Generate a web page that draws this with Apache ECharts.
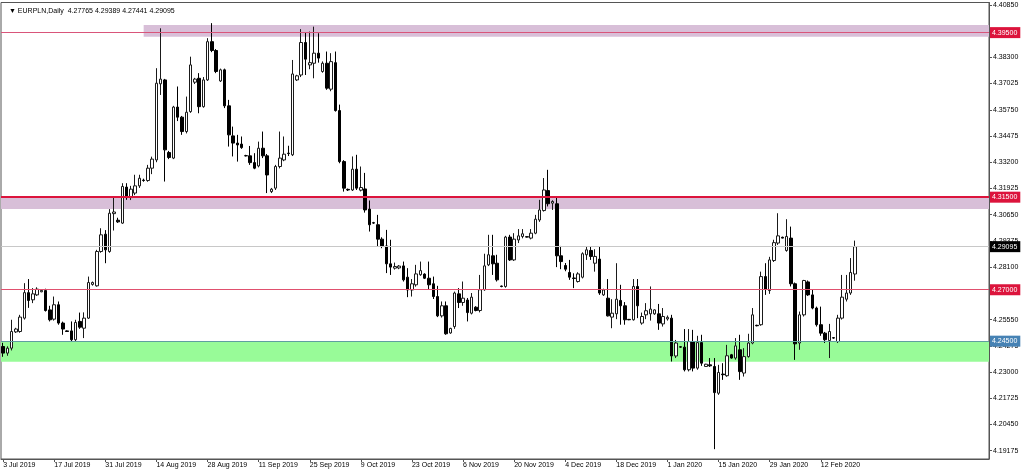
<!DOCTYPE html>
<html>
<head>
<meta charset="utf-8">
<script src="https://cdn.jsdelivr.net/npm/echarts@6/dist/echarts.min.js"></script>
<style>html,body{margin:0;padding:0;background:#fff}#c{width:1024px;height:474px}</style>
</head>
<body>
<div id="c"></div>
<script>
const symbolName = 'EURPLN,Daily';
const tickLabels = ['3 Jul 2019','17 Jul 2019','31 Jul 2019','14 Aug 2019','28 Aug 2019','11 Sep 2019','25 Sep 2019','9 Oct 2019','23 Oct 2019','6 Nov 2019','20 Nov 2019','4 Dec 2019','18 Dec 2019','1 Jan 2020','15 Jan 2020','29 Jan 2020','12 Feb 2020'];
const barsPerLabel = 12;
const totalSlots = 232;
const priceTicks = [4.19175,4.20450,4.21725,4.23000,4.24275,4.25550,4.26825,4.28100,4.29375,4.30650,4.31925,4.33200,4.34475,4.35750,4.37025,4.38300,4.39575,4.40850];
const priceMin = 4.18772, priceMax = 4.40964;

const open = [4.2424,4.2392,4.2416,4.2495,4.2497,4.2562,4.2686,4.2651,4.2675,4.2690,
4.2696,4.2602,4.2557,4.2627,4.2538,4.2500,4.2500,4.2457,4.2546,4.2513,
4.2562,4.2726,4.2719,4.2886,4.2970,4.2886,4.3070,4.3038,4.3024,4.3199,
4.3148,4.3170,4.3205,4.3233,4.3231,4.3291,4.3331,4.3701,4.3720,4.3367,
4.3340,4.3588,4.3539,4.3469,4.3566,4.3709,4.3728,4.3590,4.3720,4.3906,
4.3863,4.3715,4.3769,4.3594,4.3448,4.3413,4.3408,4.3352,4.3351,4.3318,
4.3302,4.3388,4.3351,4.3177,4.3194,4.3299,4.3331,4.3364,4.3356,4.3720,
4.3744,4.3902,4.3793,4.3801,4.3850,4.3761,4.3801,4.3675,4.3804,4.3571,
4.3323,4.3188,4.3185,4.3286,4.3184,4.3190,4.3092,4.3026,4.3016,4.2946,
4.2913,4.2826,4.2805,4.2806,4.2816,4.2761,4.2699,4.2724,4.2773,4.2776,
4.2756,4.2729,4.2667,4.2573,4.2622,4.2490,4.2521,4.2680,4.2638,4.2650,
4.2586,4.2615,4.2599,4.2700,4.2821,4.2865,4.2829,4.2718,4.2716,4.2956,
4.2845,4.2942,4.2959,4.2958,4.2951,4.2975,4.3039,4.3085,4.3182,4.3121,
4.3118,4.2865,4.2818,4.2784,4.2757,4.2740,4.2761,4.2870,4.2891,4.2829,
4.2849,4.2675,4.2659,4.2567,4.2583,4.2648,4.2622,4.2556,4.2554,4.2716,
4.2538,4.2578,4.2583,4.2583,4.2583,4.2534,4.2558,4.2562,4.2378,4.2423,
4.2421,4.2311,4.2448,4.2319,4.2443,4.2327,4.2335,4.2327,4.2197,4.2290,
4.2282,4.2384,4.2368,4.2408,4.2295,4.2375,4.2441,4.2527,4.2530,4.2764,
4.2696,4.2842,4.2927,4.2955,4.2891,4.2951,4.2729,4.2441,4.2578,4.2738,
4.2675,4.2611,4.2530,4.2489,4.2453,4.2467,4.2448,4.2562,4.2654,4.2684,
4.27765];
const high = [4.2442,4.2425,4.2554,4.2515,4.2578,4.2732,4.2752,4.2708,4.2712,4.2700,
4.2705,4.2622,4.2667,4.2643,4.2545,4.2503,4.2546,4.2554,4.2589,4.2590,
4.2764,4.2740,4.2894,4.2999,4.2990,4.3092,4.3150,4.3050,4.3218,4.3218,
4.3205,4.3259,4.3259,4.3240,4.3307,4.3347,4.3777,4.3971,4.3725,4.3375,
4.3594,4.3688,4.3545,4.3639,4.3833,4.3730,4.3753,4.3734,4.3923,4.3996,
4.3870,4.3775,4.3775,4.3623,4.3493,4.3453,4.3445,4.3356,4.3399,4.3364,
4.3420,4.3469,4.3360,4.3195,4.3307,4.3469,4.3445,4.3400,4.3817,4.3745,
4.3967,4.3950,4.3955,4.3979,4.3947,4.3810,4.3858,4.3850,4.3858,4.3600,
4.3330,4.3192,4.3348,4.3356,4.3299,4.3268,4.3134,4.3030,4.3064,4.2955,
4.2991,4.2943,4.2832,4.2820,4.2837,4.2805,4.2752,4.2821,4.2837,4.2780,
4.2837,4.2764,4.2719,4.2643,4.2643,4.2515,4.2691,4.2708,4.2740,4.2660,
4.2684,4.2620,4.2772,4.2875,4.2967,4.2967,4.2870,4.2720,4.2962,4.2967,
4.2975,4.2995,4.2995,4.2960,4.2995,4.3064,4.3137,4.3243,4.3283,4.3135,
4.3153,4.2913,4.2830,4.2845,4.2780,4.2785,4.2882,4.2910,4.2910,4.2897,
4.2910,4.2705,4.2752,4.2654,4.2829,4.2724,4.2640,4.2558,4.2752,4.2752,
4.2589,4.2635,4.2716,4.2605,4.2631,4.2611,4.2575,4.2578,4.2456,4.2425,
4.2509,4.2509,4.2505,4.2476,4.2481,4.2340,4.2368,4.2368,4.2335,4.2343,
4.2432,4.2388,4.2465,4.2481,4.2416,4.2486,4.2611,4.2530,4.2788,4.2829,
4.2860,4.2943,4.3072,4.2958,4.3043,4.3007,4.2735,4.2594,4.2748,4.2745,
4.2699,4.2618,4.2618,4.2495,4.2534,4.2470,4.2578,4.2772,4.2772,4.2854,
4.29389];
const low = [4.2374,4.2379,4.2405,4.2490,4.2491,4.2555,4.2612,4.2635,4.2670,4.2688,
4.2594,4.2546,4.2550,4.2530,4.2481,4.2495,4.2450,4.2450,4.2510,4.2465,
4.2558,4.2720,4.2715,4.2880,4.2829,4.2880,4.2988,4.3025,4.3020,4.3137,
4.3136,4.3160,4.3195,4.3225,4.3225,4.3262,4.3320,4.3647,4.3226,4.3335,
4.3335,4.3520,4.3453,4.3460,4.3560,4.3700,4.3558,4.3585,4.3715,4.3855,
4.3753,4.3710,4.3583,4.3396,4.3348,4.3323,4.3385,4.3348,4.3307,4.3286,
4.3295,4.3340,4.3170,4.3170,4.3185,4.3290,4.3325,4.3350,4.3350,4.3715,
4.3734,4.3744,4.3772,4.3728,4.3804,4.3755,4.3672,4.3665,4.3566,4.3315,
4.3177,4.3180,4.3180,4.3185,4.3178,4.3075,4.2983,4.3020,4.2910,4.2902,
4.2781,4.2772,4.2798,4.2800,4.2740,4.2664,4.2667,4.2715,4.2768,4.2752,
4.2700,4.2655,4.2567,4.2565,4.2481,4.2486,4.2510,4.2611,4.2622,4.2546,
4.2580,4.2595,4.2590,4.2695,4.2815,4.2772,4.2740,4.2712,4.2710,4.2840,
4.2840,4.2927,4.2950,4.2954,4.2945,4.2970,4.3030,4.3080,4.3105,4.3088,
4.2810,4.2800,4.2790,4.2748,4.2708,4.2735,4.2755,4.2845,4.2845,4.2788,
4.2675,4.2670,4.2570,4.2513,4.2557,4.2530,4.2530,4.2552,4.2550,4.2562,
4.2530,4.2557,4.2550,4.2578,4.2505,4.2521,4.2550,4.2351,4.2368,4.2418,
4.2303,4.2303,4.2303,4.2311,4.2330,4.2325,4.2325,4.1925,4.2189,4.2262,
4.2277,4.2365,4.2360,4.2262,4.2278,4.2370,4.2435,4.2522,4.2525,4.2675,
4.2680,4.2835,4.2918,4.2950,4.2885,4.2716,4.2359,4.2408,4.2570,4.2670,
4.2605,4.2521,4.2476,4.2441,4.2368,4.2462,4.2441,4.2555,4.2643,4.2675,
4.27441];
const close = [4.2392,4.2416,4.2497,4.2509,4.2567,4.2686,4.2648,4.2680,4.2703,4.2697,
4.2599,4.2554,4.2627,4.2538,4.2509,4.2497,4.2457,4.2541,4.2518,4.2562,
4.2735,4.2735,4.2886,4.2967,4.2894,4.3072,4.3078,4.3030,4.3202,4.3148,
4.3189,4.3205,4.3242,4.3231,4.3291,4.3335,4.3704,4.3724,4.3380,4.3343,
4.3588,4.3539,4.3469,4.3563,4.3793,4.3724,4.3590,4.3720,4.3906,4.3863,
4.3761,4.3769,4.3594,4.3453,4.3413,4.3404,4.3391,4.3351,4.3318,4.3291,
4.3388,4.3351,4.3258,4.3189,4.3299,4.3340,4.3359,4.3362,4.3749,4.3740,
4.3902,4.3821,4.3804,4.3850,4.3826,4.3801,4.3680,4.3809,4.3571,4.3323,
4.3194,4.3185,4.3286,4.3194,4.3197,4.3088,4.3016,4.3024,4.2946,4.2913,
4.2826,4.2810,4.2813,4.2815,4.2748,4.2699,4.2729,4.2777,4.2793,4.2756,
4.2724,4.2667,4.2573,4.2622,4.2486,4.2512,4.2684,4.2638,4.2659,4.2589,
4.2664,4.2599,4.2700,4.2816,4.2870,4.2826,4.2748,4.2716,4.2956,4.2845,
4.2946,4.2962,4.2972,4.2956,4.2975,4.3043,4.3088,4.3185,4.3118,4.3129,
4.2865,4.2837,4.2800,4.2761,4.2755,4.2777,4.2875,4.2894,4.2862,4.2862,
4.2684,4.2699,4.2573,4.2586,4.2654,4.2622,4.2554,4.2554,4.2716,4.2622,
4.2570,4.2598,4.2606,4.2602,4.2538,4.2570,4.2566,4.2378,4.2441,4.2421,
4.2311,4.2448,4.2319,4.2443,4.2343,4.2338,4.2330,4.2200,4.2298,4.2287,
4.2379,4.2368,4.2427,4.2302,4.2375,4.2441,4.2578,4.2525,4.2764,4.2703,
4.2845,4.2929,4.2962,4.2951,4.2959,4.2729,4.2437,4.2578,4.2745,4.2675,
4.2611,4.2530,4.2489,4.2457,4.2497,4.2465,4.2562,4.2664,4.2684,4.2784,
4.29095];

// horizontal levels drawn on the chart
const resistanceLevels = [4.39500, 4.31500, 4.27000];
const supportLevel = 4.24500;
const topZone = [4.3987, 4.3930];
const midZone = [4.3150, 4.3093];
const lowZone = [4.2450, 4.2350];
const topZoneStartBar = 33;

const slots = Array.from({length: totalSlots}, (_, i) => String(i));
const candles = open.map((o, i) => [o, close[i], low[i], high[i]]);
const last = open.length - 1;
const fmt = v => Number(v).toFixed(5);
const FONT = 'Liberation Sans';

const labelShown = idx => idx % barsPerLabel === 0 && idx / barsPerLabel < tickLabels.length;

const tag = (bg) => ({
  show: true, position: 'end', distance: 1, formatter: p => fmt(p.value),
  backgroundColor: bg, color: '#fff', fontFamily: FONT, fontSize: 7,
  padding: [2, 3, 1, 2], lineHeight: 8
});

const chart = echarts.init(document.getElementById('c'), null, {renderer: 'canvas'});
chart.setOption({
  animation: false,
  backgroundColor: '#ffffff',
  title: {
    text: '\u25BC ' + symbolName + '  ' + [open[last], high[last], low[last], close[last]].map(fmt).join(' '),
    left: 4, top: 3,
    textStyle: {fontFamily: FONT, fontSize: 7, fontWeight: 'normal', color: '#000'}
  },
  grid: {left: 1, right: 35, top: 2.5, bottom: 15, show: true, borderColor: '#555', borderWidth: 1, backgroundColor: 'transparent'},
  xAxis: {
    type: 'category', data: slots, boundaryGap: true,
    axisLine: {show: true, lineStyle: {color: '#555', width: 1}},
    axisTick: {show: true, interval: labelShown, alignWithLabel: true, length: 3, lineStyle: {color: '#555'}},
    axisLabel: {
      show: true, interval: labelShown, align: 'left', margin: 3,
      formatter: (v, idx) => tickLabels[idx / barsPerLabel] || '',
      fontFamily: FONT, fontSize: 7, color: '#000'
    },
    splitLine: {show: false}
  },
  yAxis: {
    type: 'value', position: 'right', min: priceMin, max: priceMax, scale: true,
    axisLine: {show: true, lineStyle: {color: '#555', width: 1}},
    axisTick: {show: true, customValues: priceTicks, length: 3, lineStyle: {color: '#555'}},
    axisLabel: {show: true, customValues: priceTicks, formatter: v => fmt(v), margin: 4,
      fontFamily: FONT, fontSize: 7, color: '#000', align: 'left'},
    splitLine: {show: false}
  },
  series: [
    {
      name: 'zones', type: 'line', data: [], z: 1, silent: true,
      markArea: {
        silent: true,
        data: [
          [{xAxis: topZoneStartBar, yAxis: topZone[0], itemStyle: {color: '#d8bfd8'}}, {yAxis: topZone[1]}],
          [{yAxis: midZone[0], itemStyle: {color: '#d8bfd8'}}, {yAxis: midZone[1]}],
          [{yAxis: lowZone[0], itemStyle: {color: '#98fb98'}}, {yAxis: lowZone[1]}]
        ]
      },
      markLine: {
        silent: true, symbol: 'none', animation: false, precision: 5,
        data: [
          {yAxis: close[last], lineStyle: {color: '#c8c8c8', width: 1, type: 'solid'}, label: tag('#000000')}
        ]
      }
    },
    {
      name: symbolName, type: 'candlestick', data: candles, z: 2,
      barWidth: 3,
      itemStyle: {color: '#ffffff', color0: '#000000', borderColor: '#1a1a1a', borderColor0: '#000000', borderWidth: 1}
    },
    {
      name: 'levels', type: 'line', data: [], z: 5, silent: true,
      markLine: {
        silent: true, symbol: 'none', animation: false, precision: 5,
        data: [
          {yAxis: resistanceLevels[0], lineStyle: {color: '#d9557a', width: 1, type: 'solid'}, label: tag('#dc143c')},
          {yAxis: resistanceLevels[1], lineStyle: {color: '#dc143c', width: 2, type: 'solid'}, label: tag('#dc143c')},
          {yAxis: resistanceLevels[2], lineStyle: {color: '#e0506e', width: 1, type: 'solid'}, label: tag('#dc143c')},
          {yAxis: supportLevel, lineStyle: {color: '#5f9ea0', width: 1, type: 'solid'}, label: tag('#4682b4')}
        ]
      }
    }
  ]
});
</script>
</body>
</html>
